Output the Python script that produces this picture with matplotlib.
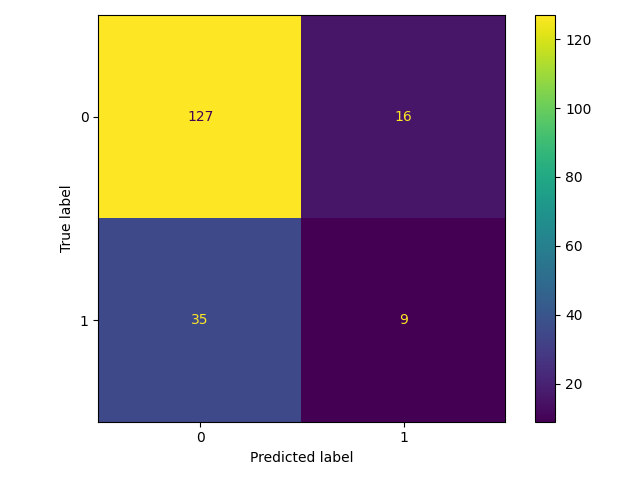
import numpy as np
import matplotlib
matplotlib.use("Agg")
import matplotlib.pyplot as plt

# confusion matrix values
labels = ["0", "1"]
cm = np.array([[127, 16],
               [35, 9]])

fig, ax = plt.subplots(figsize=(6.4, 4.8), dpi=100)
cmap = plt.get_cmap("viridis")
im = ax.imshow(cm, interpolation="nearest", cmap=cmap)

# text colour like sklearn: dark on bright cells, bright on dark cells
thresh = (cm.max() + cm.min()) / 2.0
cmap_min, cmap_max = cmap(0), cmap(1.0)
for i in range(cm.shape[0]):
    for j in range(cm.shape[1]):
        color = cmap_min if cm[i, j] >= thresh else cmap_max
        ax.text(j, i, format(cm[i, j], "d"), ha="center", va="center", color=color)

fig.colorbar(im, ax=ax)
ax.set(xticks=np.arange(len(labels)), yticks=np.arange(len(labels)),
       xticklabels=labels, yticklabels=labels,
       ylabel="True label", xlabel="Predicted label")
ax.set_ylim((len(labels) - 0.5, -0.5))

plt.tight_layout()
fig.savefig("out.png")
